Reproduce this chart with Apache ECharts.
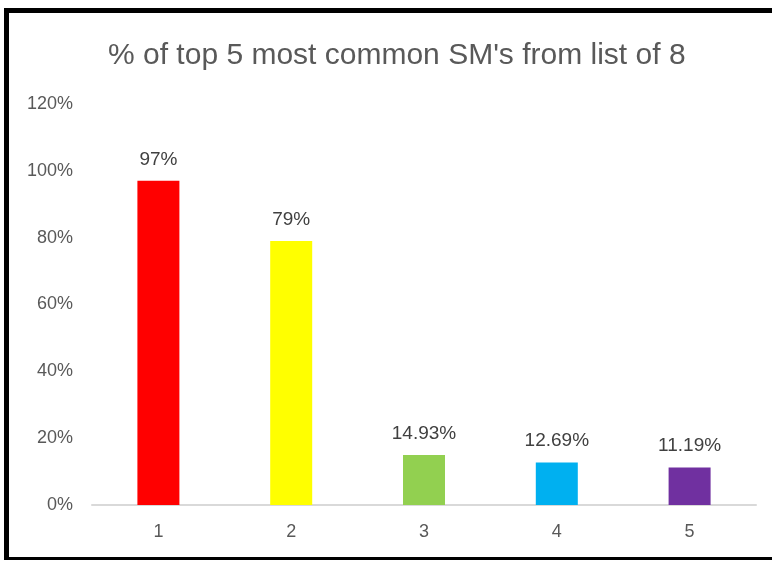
<!DOCTYPE html>
<html>
<head>
<meta charset="utf-8">
<script src="https://cdn.jsdelivr.net/npm/echarts@6/dist/echarts.min.js"></script>
<style>
html,body{margin:0;padding:0;background:#fff;}
#chart{position:absolute;left:0;top:0;width:772px;height:563px;}
#frame{position:absolute;left:4px;top:8px;width:768px;height:552px;border-left:5px solid #000;border-top:5px solid #000;border-bottom:3px solid #000;box-sizing:border-box;pointer-events:none;}
</style>
</head>
<body>
<div id="chart"></div>
<div id="frame"></div>
<script>
const titleText = "% of top 5 most common SM's from list of 8";
const categories = ["1", "2", "3", "4", "5"];
const values = [97, 79, 14.93, 12.69, 11.19];
const valueLabels = ["97%", "79%", "14.93%", "12.69%", "11.19%"];
const barColors = ["#FF0000", "#FFFF00", "#92D050", "#00B0F0", "#7030A0"];

const chart = echarts.init(document.getElementById('chart'));
chart.setOption({
  backgroundColor: 'transparent',
  animation: false,
  title: {
    text: titleText,
    left: 103,
    top: 36,
    textStyle: {fontFamily: 'Liberation Sans', fontSize: 30, fontWeight: 'normal', color: '#595959'}
  },
  grid: {left: 92, right: 16, top: 104, bottom: 58},
  xAxis: {
    type: 'category',
    data: categories,
    axisLine: {lineStyle: {color: '#D9D9D9', width: 2}},
    axisTick: {show: false},
    axisLabel: {fontFamily: 'Liberation Sans', fontSize: 18, color: '#595959', margin: 18}
  },
  yAxis: {
    type: 'value',
    min: 0, max: 120, interval: 20,
    splitLine: {show: false},
    axisLine: {show: false},
    axisTick: {show: false},
    axisLabel: {fontFamily: 'Liberation Sans', fontSize: 18, color: '#595959', margin: 19, formatter: '{value}%'}
  },
  series: [{
    type: 'bar',
    barWidth: 42,
    data: values.map((v, i) => ({value: v, itemStyle: {color: barColors[i]}})),
    label: {
      show: true, position: 'top', distance: 12,
      fontFamily: 'Liberation Sans', fontSize: 19, color: '#404040',
      formatter: p => valueLabels[p.dataIndex]
    }
  }]
});
</script>
</body>
</html>
